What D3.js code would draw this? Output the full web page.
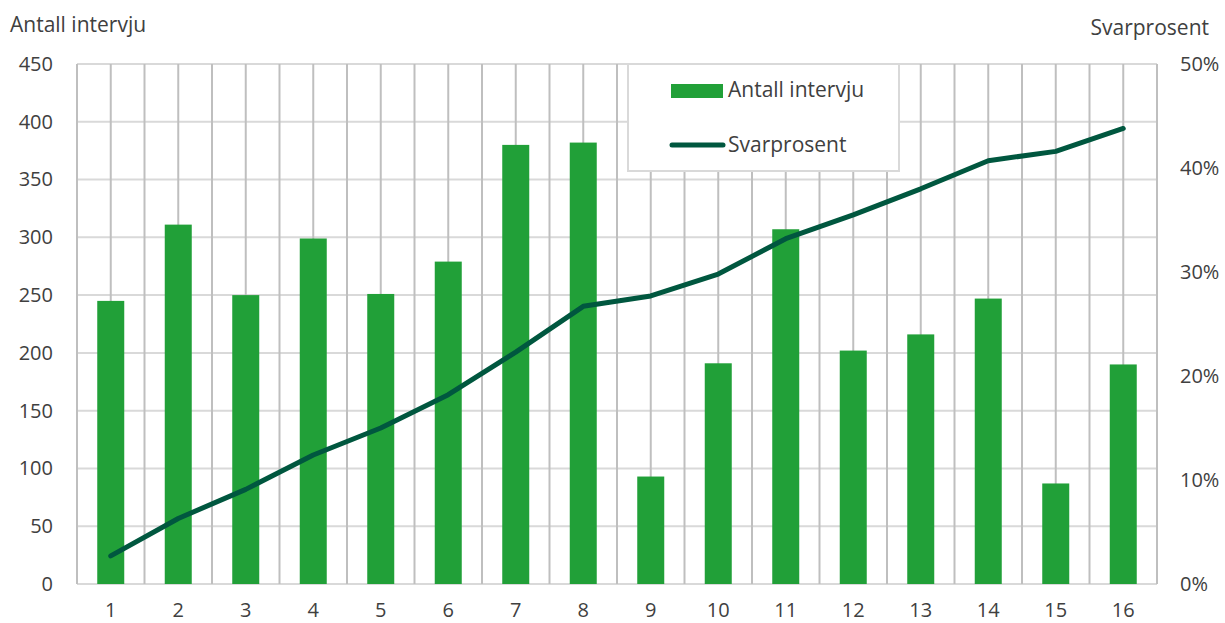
<!DOCTYPE html>
<html>
<head>
<meta charset="utf-8">
<script src="https://cdn.jsdelivr.net/npm/d3@7"></script>
<style>
  body { margin: 0; background: #fff; }
  text { font-family: "Open Sans", "Noto Sans", sans-serif; fill: #404040; }
</style>
</head>
<body>
<div id="chart"></div>
<script>
// data
const categories = ["1", "2", "3", "4", "5", "6", "7", "8", "9", "10", "11", "12", "13", "14", "15", "16"];
const interviews = [245, 311, 250, 299, 251, 279, 380, 382, 93, 191, 307, 202, 216, 247, 87, 190];
const responseRate = [2.7, 6.3, 9.1, 12.4, 15.0, 18.2, 22.3, 26.7, 27.7, 29.8, 33.2, 35.5, 38.0, 40.7, 41.6, 43.8];
const leftTicks = [0, 50, 100, 150, 200, 250, 300, 350, 400, 450];
const rightTicks = [0, 10, 20, 30, 40, 50];

function comboChart() {
    const W = 1225, H = 623;
    const margin = { top: 64, right: 68, bottom: 39, left: 77 };
    const width = W - margin.left - margin.right;
    const height = H - margin.top - margin.bottom;

    const root = d3.select("#chart")
        .append("svg")
        .attr("width", W)
        .attr("height", H);

    const svg = root.append("g")
        .attr("transform", `translate(${margin.left}, ${margin.top})`);

    // scales
    const x = d3.scaleBand().domain(categories).range([0, width]).padding(0);
    const xBar = d3.scaleBand().domain(categories).range([0, width])
        .paddingInner(0.6).paddingOuter(0.3);
    const yLeft = d3.scaleLinear().domain([0, 450]).range([height, 0]);
    const yRight = d3.scaleLinear().domain([0, 50]).range([height, 0]);

    // horizontal grid
    svg.append("g")
        .selectAll("line")
        .data(leftTicks)
        .join("line")
        .attr("x1", 0)
        .attr("x2", width)
        .attr("y1", d => yLeft(d))
        .attr("y2", d => yLeft(d))
        .attr("stroke", "#d9d9d9")
        .attr("stroke-width", 2);

    // vertical grid: category edges and centres
    const vLines = [];
    categories.forEach(c => {
        vLines.push(x(c));
        vLines.push(x(c) + x.bandwidth() / 2);
    });
    vLines.push(width);
    svg.append("g")
        .selectAll("line")
        .data(vLines)
        .join("line")
        .attr("x1", d => d)
        .attr("x2", d => d)
        .attr("y1", 0)
        .attr("y2", height)
        .attr("stroke", "#bfbfbf")
        .attr("stroke-width", 2);

    // bars
    svg.append("g")
        .selectAll("rect")
        .data(categories)
        .join("rect")
        .attr("x", (d) => xBar(d))
        .attr("y", (d, i) => yLeft(interviews[i]))
        .attr("width", xBar.bandwidth())
        .attr("height", (d, i) => height - yLeft(interviews[i]))
        .attr("fill", "#21a038");

    // line
    const line = d3.line()
        .x((d, i) => x(categories[i]) + x.bandwidth() / 2)
        .y(d => yRight(d));
    svg.append("path")
        .datum(responseRate)
        .attr("d", line)
        .attr("fill", "none")
        .attr("stroke", "#00573f")
        .attr("stroke-width", 5)
        .attr("stroke-linecap", "round")
        .attr("stroke-linejoin", "round");

    // axes
    const ax = svg.append("g")
        .attr("transform", `translate(0, ${height})`)
        .call(d3.axisBottom(x).tickSize(0).tickPadding(19));
    ax.select(".domain").remove();
    ax.selectAll("text").style("font-size", "20px");

    const ayl = svg.append("g")
        .call(d3.axisLeft(yLeft).tickValues(leftTicks).tickSize(0).tickPadding(24));
    ayl.select(".domain").remove();
    ayl.selectAll("text").style("font-size", "20px");

    const ayr = svg.append("g")
        .attr("transform", `translate(${width}, 0)`)
        .call(d3.axisRight(yRight).tickValues(rightTicks).tickSize(0).tickPadding(23)
            .tickFormat(d => d + "%"));
    ayr.select(".domain").remove();
    ayr.selectAll("text").style("font-size", "20px");

    // axis titles
    root.append("text")
        .attr("x", 10)
        .attr("y", 32)
        .style("font-size", "21px")
        .text("Antall intervju");
    root.append("text")
        .attr("x", 1209)
        .attr("y", 35)
        .attr("text-anchor", "end")
        .style("font-size", "21px")
        .text("Svarprosent");

    // legend
    const legend = root.append("g").attr("transform", "translate(628, 64)");
    legend.append("rect")
        .attr("width", 271)
        .attr("height", 107)
        .attr("fill", "#fff")
        .attr("stroke", "#d9d9d9")
        .attr("stroke-width", 2);
    legend.append("rect")
        .attr("x", 43)
        .attr("y", 20)
        .attr("width", 52)
        .attr("height", 14)
        .attr("fill", "#21a038");
    legend.append("text")
        .attr("x", 100)
        .attr("y", 33)
        .style("font-size", "21px")
        .text("Antall intervju");
    legend.append("line")
        .attr("x1", 44)
        .attr("x2", 95)
        .attr("y1", 81)
        .attr("y2", 81)
        .attr("stroke", "#00573f")
        .attr("stroke-width", 5)
        .attr("stroke-linecap", "round");
    legend.append("text")
        .attr("x", 100)
        .attr("y", 88)
        .style("font-size", "21px")
        .text("Svarprosent");
}

comboChart();
</script>
</body>
</html>
